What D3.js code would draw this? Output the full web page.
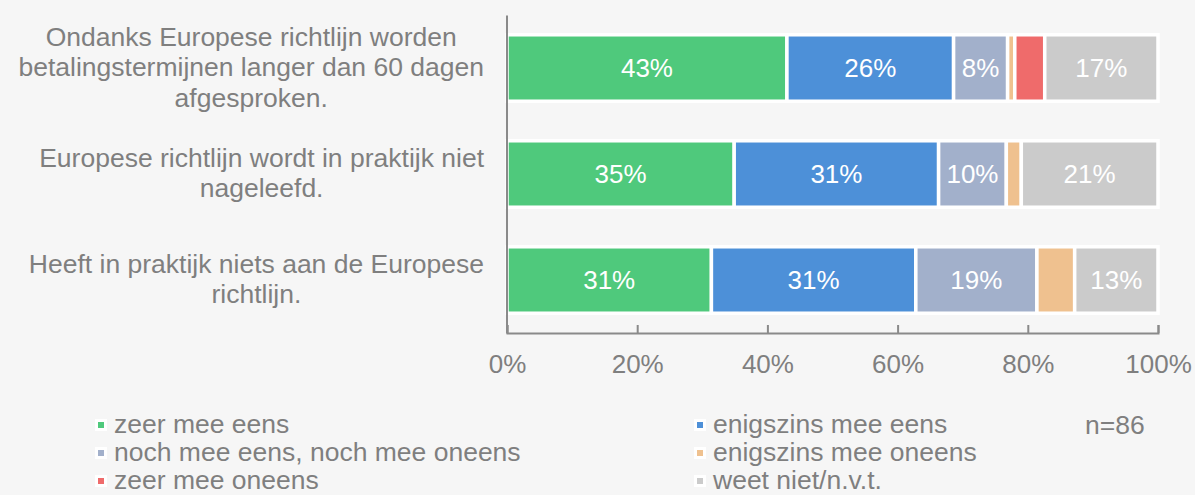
<!DOCTYPE html>
<html>
<head>
<meta charset="utf-8">
<script src="https://cdn.jsdelivr.net/npm/d3@7"></script>
<style>
  body { margin:0; background:#f6f6f6; }
  svg { display:block; font-family:"Liberation Sans", Arial, sans-serif; }
</style>
</head>
<body>
<svg id="chart"></svg>
<script>
var width = 1195;
var height = 495;

// categories (one line per text row)
var categories = [
  "Ondanks Europese richtlijn worden\nbetalingstermijnen langer dan 60 dagen\nafgesproken.",
  "Europese richtlijn wordt in praktijk niet\nnageleefd.",
  "Heeft in praktijk niets aan de Europese\nrichtlijn."
];
var seriesNames = ["zeer mee eens", "enigszins mee eens", "noch mee eens, noch mee oneens",
                   "enigszins mee oneens", "zeer mee oneens", "weet niet/n.v.t."];
var seriesColors = ["#4fc97c", "#4d90d8", "#a2b0cb", "#efc18f", "#ef6b6b", "#cbcbcb"];

// percentages per series, one value per category
var zeerEens        = [43.0, 34.9, 31.4];
var enigszinsEens   = [25.6, 31.4, 31.4];
var neutraal        = [8.3, 10.4, 18.6];
var enigszinsOneens = [1.1, 2.3, 5.8];
var zeerOneens      = [4.6, 0, 0];
var weetNiet        = [17.4, 21.0, 12.8];

var tickValues = [0, 20, 40, 60, 80, 100];
var nLabel = "n=86";

var seriesValues = [zeerEens, enigszinsEens, neutraal, enigszinsOneens, zeerOneens, weetNiet];
var table = categories.map(function(c, i){
  var row = {cat:c};
  seriesNames.forEach(function(s, j){ row[s] = seriesValues[j][i]; });
  return row;
});

var margin = {left:507, right:37, top:15};
var axisY = 333;

var svg = d3.select('#chart').attr('width', width).attr('height', height);
svg.append('rect').attr('width', width).attr('height', height).attr('fill', '#f6f6f6');

var x = d3.scaleLinear().domain([0,100]).range([margin.left, width - margin.right]);
var y = d3.scaleBand().domain(categories).range([margin.top, axisY])
          .paddingInner(0.373).paddingOuter(0.373/2);

var stack = d3.stack().keys(seriesNames)(table);

var layers = svg.append('g').selectAll('g')
  .data(stack).enter().append('g')
  .attr('fill', function(d, i){ return seriesColors[i]; });

layers.selectAll('rect')
  .data(function(d){ return d; })
  .enter().append('rect')
  .filter(function(d){ return d[1] - d[0] > 0; })
  .attr('x', function(d){ return x(d[0]); })
  .attr('y', function(d){ return y(d.data.cat); })
  .attr('width', function(d){ return x(d[1]) - x(d[0]); })
  .attr('height', y.bandwidth())
  .attr('stroke', '#ffffff')
  .attr('stroke-width', 3.5);

// value labels
layers.selectAll('text')
  .data(function(d){ return d; })
  .enter().append('text')
  .filter(function(d){ return d[1] - d[0] >= 7; })
  .attr('x', function(d){ return (x(d[0]) + x(d[1])) / 2; })
  .attr('y', function(d){ return y(d.data.cat) + y.bandwidth()/2 + 9; })
  .attr('text-anchor', 'middle')
  .attr('fill', '#ffffff')
  .attr('font-size', '26px')
  .text(function(d){ return Math.round(d[1] - d[0]) + '%'; });

// category labels, block right aligned, lines centred
var catG = svg.append('g');
categories.forEach(function(c){
  var lines = c.split('\n');
  var cy = y(c) + y.bandwidth()/2;
  var t = catG.append('text')
    .attr('font-size', '26.5px')
    .attr('fill', '#7f7f7f')
    .attr('text-anchor', 'middle');
  var spans = lines.map(function(l, i){
    return t.append('tspan')
      .attr('y', cy + 8 + (i - (lines.length - 1)/2) * 30.5)
      .text(l);
  });
  var maxW = d3.max(spans, function(s){ return s.node().getComputedTextLength(); });
  spans.forEach(function(s){ s.attr('x', 484 - maxW/2); });
});

// axes
var xAxis = d3.axisBottom(x).tickValues(tickValues)
  .tickSize(-8).tickSizeOuter(-8).tickPadding(22)
  .tickFormat(function(d){ return d + '%'; });
var gx = svg.append('g').attr('transform', 'translate(0,' + axisY + ')').call(xAxis);
gx.selectAll('path, line').attr('stroke', '#8a8a8a').attr('stroke-width', 2);
gx.selectAll('text').attr('fill', '#7f7f7f').attr('font-size', '26px')
  .attr('font-family', '"Liberation Sans", Arial, sans-serif');

var yAxis = d3.axisLeft(y).tickSize(0).tickSizeOuter(0).tickFormat('');
var gy = svg.append('g').attr('transform', 'translate(' + (margin.left - 0.5) + ',0)').call(yAxis);
gy.select('.domain').attr('stroke', '#8a8a8a').attr('stroke-width', 2);

// legend
var legend = svg.append('g');
seriesNames.forEach(function(s, i){
  var col = i % 2, row = Math.floor(i / 2);
  var lx = col === 0 ? 101 : 700;
  var ly = 425 + row * 28;
  legend.append('rect')
    .attr('x', lx - 4.5).attr('y', ly - 4.5).attr('width', 9).attr('height', 9)
    .attr('fill', seriesColors[i]).attr('stroke', '#ffffff').attr('stroke-width', 3);
  legend.append('text')
    .attr('x', lx + 13).attr('y', ly + 7.5)
    .attr('font-size', '26.5px').attr('fill', '#7f7f7f')
    .text(s);
});
svg.append('text').attr('x', 1085).attr('y', 434)
  .attr('font-size', '26.5px').attr('fill', '#7f7f7f').text(nLabel);
</script>
</body>
</html>
